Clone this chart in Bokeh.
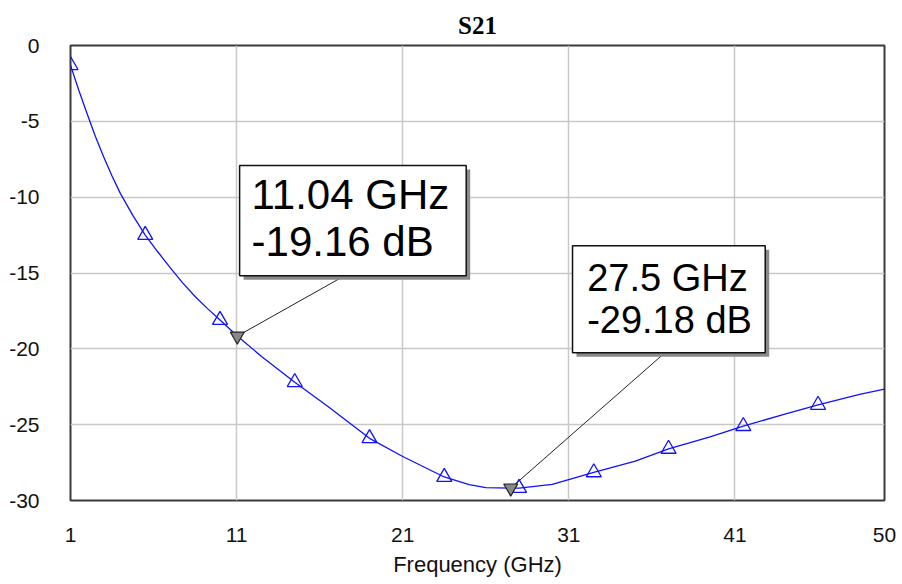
from bokeh.plotting import figure
from bokeh.models import Range1d, FixedTicker
from bokeh.core.properties import value
from bokeh.embed import file_html
from bokeh.resources import INLINE

# ---- data ----
freq = [1, 1.5, 2, 2.5, 3, 3.5, 4, 4.75, 5.5, 6.25, 7, 7.75, 8.5, 9.25, 10, 11.04,
        12.5, 14.5, 16.5, 19, 21, 23.5, 25, 26, 27.5, 28, 30, 32.5, 35, 37, 39.5,
        41.5, 44, 46, 48.5, 50]
s21 = [-1.3, -2.95, -4.5, -6.0, -7.35, -8.6, -9.75, -11.2, -12.5, -13.6, -14.65,
       -15.65, -16.55, -17.35, -18.1, -19.16, -20.5, -22.2, -23.8, -25.9, -27.1,
       -28.45, -28.95, -29.15, -29.18, -29.18, -28.93, -28.15, -27.4, -26.6, -25.8,
       -25.1, -24.3, -23.7, -23.0, -22.65]
symbol_freq = [1, 5.5, 10, 14.5, 19, 23.5, 28, 32.5, 37, 41.5, 46]
symbol_s21 = [-1.3, -12.5, -18.1, -22.2, -25.9, -28.45, -29.18, -28.15, -26.6, -25.1, -23.7]
x_ticks = [1, 11, 21, 31, 41, 50]
y_ticks = [0, -5, -10, -15, -20, -25, -30]
mk_freq = [11.04, 27.5]
mk_s21 = [-19.16, -29.18]

# ---- annotation layout (data coordinates) ----
box_left = [11.18, 31.22]
box_right = [24.82, 42.82]
box_top = [-7.92, -13.2]
box_bottom = [-15.18, -20.26]
lead_x = [17.5, 36.78]
text_x = [11.9, 32.1]
text_y1 = [-9.83, -15.3]
text_y2 = [-12.93, -18.07]
text_size = ["42px", "38px"]
sh_dx, sh_dy = 0.24, 0.26

p = figure(width=902, height=584, x_range=Range1d(1, 50), y_range=Range1d(-30, 0),
           output_backend="svg", toolbar_location=None,
           min_border_left=70, min_border_right=18, min_border_top=45, min_border_bottom=84,
           title="S21")
p.title.align = "center"
p.title.vertical_align = "top"
p.title.text_font = "Liberation Serif"
p.title.text_font_style = "bold"
p.title.text_font_size = "25px"
p.title.text_color = "#000000"

p.outline_line_color = "#3a3a3a"
p.outline_line_width = 2
p.background_fill_color = "white"
p.border_fill_color = "white"

p.xaxis.ticker = FixedTicker(ticks=x_ticks)
p.yaxis.ticker = FixedTicker(ticks=y_ticks)
p.yaxis.major_label_overrides = {t: str(t) for t in y_ticks}
p.xaxis.major_label_overrides = {t: str(t) for t in x_ticks}
for ax in (p.xaxis, p.yaxis):
    ax.axis_line_color = None
    ax.major_tick_line_color = None
    ax.minor_tick_line_color = None
    ax.major_label_text_font = "Liberation Sans"
    ax.major_label_text_font_size = "21px"
    ax.major_label_text_color = "#111111"
p.xaxis.major_label_standoff = 21
p.yaxis.major_label_standoff = 25
p.xaxis.axis_label = "Frequency (GHz)"
p.xaxis.axis_label_text_font = "Liberation Sans"
p.xaxis.axis_label_text_font_size = "22px"
p.xaxis.axis_label_text_font_style = "normal"
p.xaxis.axis_label_text_color = "#111111"
p.xaxis.axis_label_standoff = 7

p.xgrid.ticker = FixedTicker(ticks=x_ticks)
p.ygrid.ticker = FixedTicker(ticks=y_ticks)
p.grid.grid_line_color = "#c8c8c8"
p.grid.grid_line_width = 1.5

# curve and symbols
p.line(freq, s21, line_color="#1010ff", line_width=1.3)
p.scatter(symbol_freq, symbol_s21, marker="triangle", size=15, fill_color=None,
          line_color="#1010ff", line_width=1.3)

# marker annotations
p.segment(x0=mk_freq, y0=mk_s21, x1=lead_x, y1=box_bottom, line_color="#222222", line_width=1)
p.scatter(mk_freq, mk_s21, marker="inverted_triangle", size=14, fill_color="#888888",
          line_color="#222222", line_width=1.2)
p.quad(left=[v + sh_dx for v in box_left], right=[v + sh_dx for v in box_right],
       top=[v - sh_dy for v in box_top], bottom=[v - sh_dy for v in box_bottom],
       fill_color="#8a8a8a", line_color=None)
p.quad(left=box_left, right=box_right, top=box_top, bottom=box_bottom,
       fill_color="white", line_color="#111111", line_width=1.5)

for i in range(len(mk_freq)):
    line1 = f"{mk_freq[i]:g} GHz"
    line2 = f"{mk_s21[i]:.2f} dB"
    p.text(x=[text_x[i], text_x[i]], y=[text_y1[i], text_y2[i]], text=[line1, line2],
           text_font=value("Liberation Sans"), text_font_size=text_size[i],
           text_color="#000000", text_baseline="alphabetic", text_align="left")

open("out.html", "w").write(file_html(p, INLINE))
